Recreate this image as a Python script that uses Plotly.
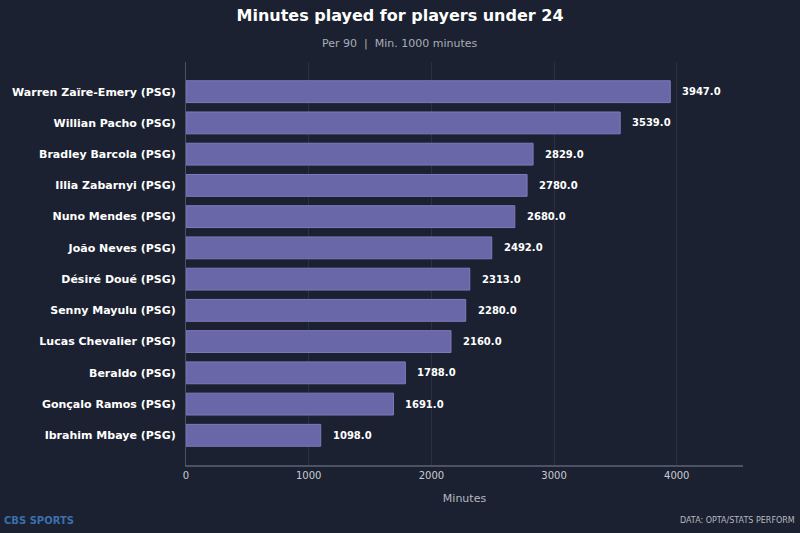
import plotly.graph_objects as go

# chart data
players = [
    "Warren Zaïre-Emery (PSG)",
    "Willian Pacho (PSG)",
    "Bradley Barcola (PSG)",
    "Illia Zabarnyi (PSG)",
    "Nuno Mendes (PSG)",
    "João Neves (PSG)",
    "Désiré Doué (PSG)",
    "Senny Mayulu (PSG)",
    "Lucas Chevalier (PSG)",
    "Beraldo (PSG)",
    "Gonçalo Ramos (PSG)",
    "Ibrahim Mbaye (PSG)",
]
minutes = [3947, 3539, 2829, 2780, 2680, 2492, 2313, 2280, 2160, 1788, 1691, 1098]
x_ticks = [0, 1000, 2000, 3000, 4000]

BG = "#1b2130"
BAR = "#6a67a8"
FONT = "DejaVu Sans"

fig = go.Figure()
fig.add_trace(go.Bar(
    x=minutes,
    y=players,
    orientation="h",
    width=0.7,
    marker=dict(color=BAR, line=dict(color="#7d7bbd", width=1)),
    hoverinfo="x+y",
))

# value labels next to each bar
for name, val in zip(players, minutes):
    fig.add_annotation(x=val, y=name, text=f"<b>{val:.1f}</b>",
                       showarrow=False, xanchor="left", xshift=10,
                       font=dict(family=FONT, size=10, color="#ffffff"))

fig.update_layout(
    width=800, height=533,
    paper_bgcolor=BG, plot_bgcolor=BG,
    margin=dict(l=186, r=57, t=62, b=68),
    showlegend=False,
    title=dict(text="<b>Minutes played for players under 24</b>",
               x=0.5, xanchor="center", y=0.972, yanchor="middle",
               font=dict(family=FONT, size=16, color="#ffffff")),
    xaxis=dict(range=[0, 4540], tickvals=x_ticks, showgrid=True,
               gridcolor="#2a3142", gridwidth=1, zeroline=False,
               showline=True, linecolor="#4a5263", linewidth=2,
               ticks="", tickfont=dict(family=FONT, size=10, color="#c8cbd2"),
               title=dict(text="Minutes", standoff=14,
                          font=dict(family=FONT, size=11, color="#b5b9c2"))),
    yaxis=dict(autorange=False, range=[11.95, -0.95], categoryorder="array",
               categoryarray=players, showgrid=False, zeroline=False,
               showline=True, linecolor="#4a5263", linewidth=1,
               ticks="", tickprefix="<b>", ticksuffix="</b>  ",
               tickfont=dict(family=FONT, size=11, color="#ffffff")),
)

fig.add_annotation(text="Per 90  |  Min. 1000 minutes", xref="paper", yref="paper",
                   x=(400 - 186) / 557, y=1 + (62 - 43) / 403, showarrow=False,
                   xanchor="center", yanchor="middle",
                   font=dict(family=FONT, size=11, color="#a9adb6"))
fig.add_annotation(text="<b>CBS SPORTS</b>", xref="paper", yref="paper",
                   x=(2 - 186) / 557, y=-(520 - 465) / 403, showarrow=False,
                   xanchor="left", yanchor="middle",
                   font=dict(family=FONT, size=10, color="#3a6fb0"))
fig.add_annotation(text="DATA: OPTA/STATS PERFORM", xref="paper", yref="paper",
                   x=(797 - 186) / 557, y=-(520 - 465) / 403, showarrow=False,
                   xanchor="right", yanchor="middle",
                   font=dict(family=FONT, size=8, color="#b5b9c2"))

# drop the default page margin so the chart fills the window
fig.write_html("out.html", config={"displayModeBar": False},
               post_script="document.body.style.margin='0';")
